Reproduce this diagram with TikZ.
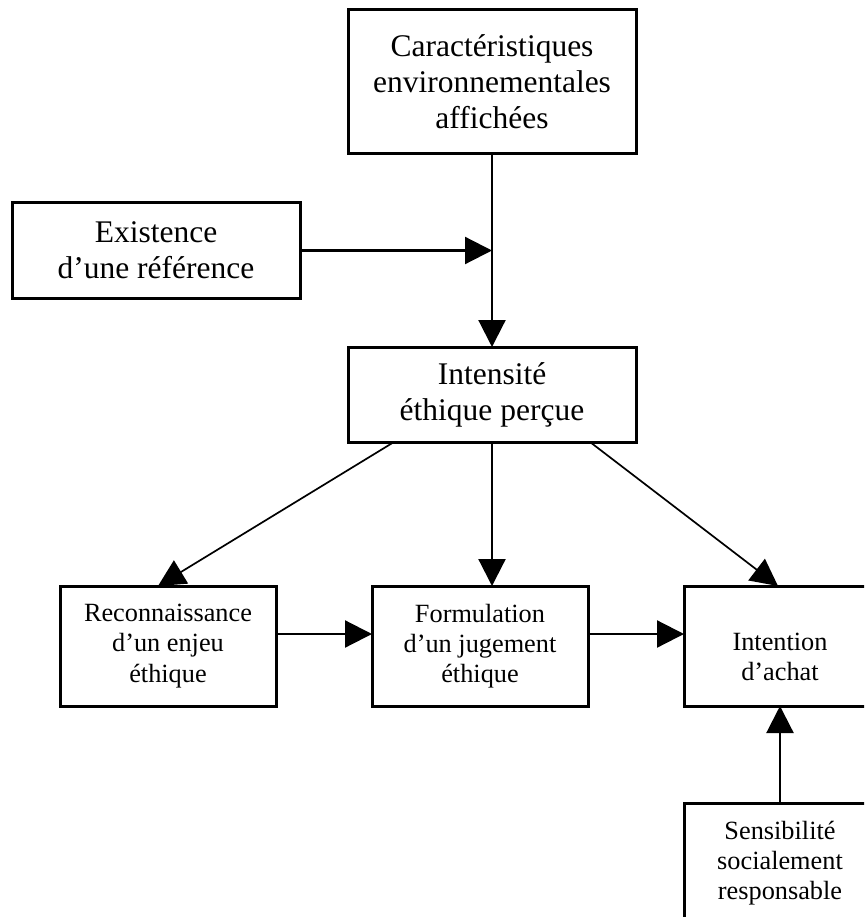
\documentclass[tikz,border=0pt]{standalone}
\usepackage{fontspec}
\setmainfont{Liberation Serif}
\usetikzlibrary{arrows.meta}
\begin{document}
\begin{tikzpicture}[x=1pt,y=-1pt,
  box/.style={draw=black, line width=3pt, inner sep=0pt, outer sep=0pt, align=center},
  big/.style={font=\fontsize{31.5}{36}\selectfont},
  small/.style={font=\fontsize{26.3}{30.3}\selectfont},
  conn/.style={line width=2.2pt, -{Triangle[length=27pt,width=27pt]}},
  diag/.style={line width=1.7pt, -{Triangle[length=27pt,width=27pt]}}]
\clip (0,0) rectangle (864,917);
\fill[white] (0,0) rectangle (864,917);
% boxes
\node[box,big,minimum width=288pt,minimum height=144pt] (cae) at (492,82)
  {Caractéristiques\\environnementales\\affichées};
\node[box,big,minimum width=288pt,minimum height=95pt] (exist) at (156,250.5)
  {Existence\\d’une référence};
\node[box,big,minimum width=288pt,minimum height=95pt] (inten) at (492,394.5)
  {Intensité\\éthique perçue};
\node[box,small,minimum width=216pt,minimum height=120pt] (recon) at (168,646)
  {Reconnaissance\\d’un enjeu\\éthique};
\node[box,small,minimum width=216pt,minimum height=120pt] (form) at (480,646)
  {Formulation\\d’un jugement\\éthique};
\node[box,minimum width=192pt,minimum height=120pt] (intent) at (780,646) {};
\node[small,align=center,inner sep=0pt] (intenttxt) at ([yshift=-11pt]intent.center)
  {Intention\\d’achat};
\node[box,small,minimum width=192pt,minimum height=120pt] (sens) at (780,863)
  {Sensibilité\\socialement\\responsable};
% connectors
\coordinate (j) at (492,250.5);
\draw[conn] (cae.south) -- (inten.north);
\draw[conn] (exist.east) -- (j);
\coordinate (ft) at ([xshift=12pt]form.north);
\draw[conn] (inten.south) -- (ft);
\coordinate (dl) at ([xshift=46pt]inten.south west);
\coordinate (dr) at ([xshift=-46pt]inten.south east);
\coordinate (rt) at ([xshift=-10pt]recon.north);
\coordinate (it) at ([xshift=-2pt]intent.north);
\draw[diag] (dl) -- (rt);
\draw[diag] (dr) -- (it);
\draw[conn] ([yshift=12pt]recon.east) -- ([yshift=12pt]form.west);
\draw[conn] ([yshift=12pt]form.east) -- ([yshift=12pt]intent.west);
\draw[conn] (sens.north) -- (intent.south);
\end{tikzpicture}
\end{document}
